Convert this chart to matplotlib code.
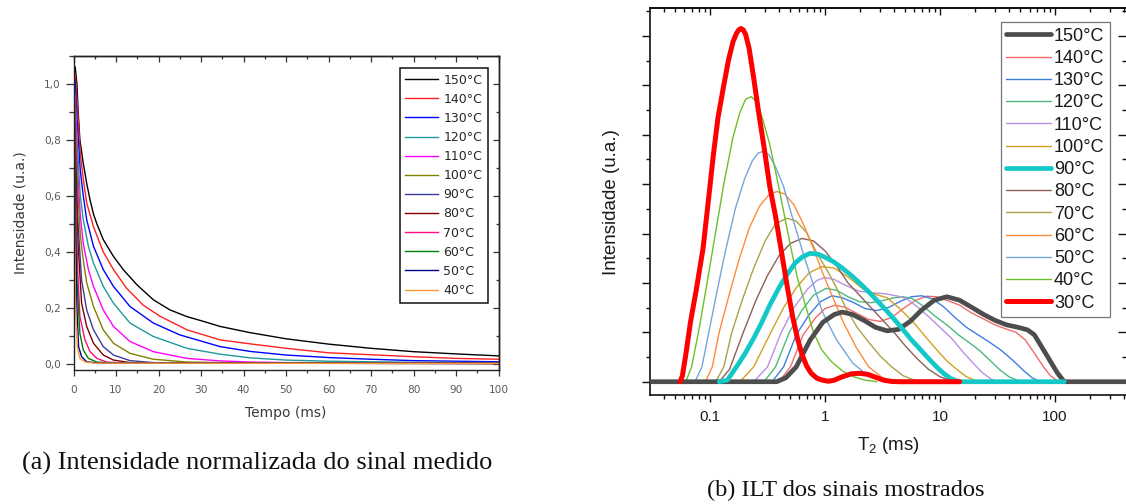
import numpy as np
import matplotlib
matplotlib.use("Agg")
import matplotlib.pyplot as plt
from matplotlib.ticker import MultipleLocator, LogLocator, FuncFormatter, NullFormatter

plt.rcParams['mathtext.fontset'] = 'custom'
plt.rcParams['mathtext.rm'] = 'Liberation Sans'
plt.rcParams['mathtext.it'] = 'Liberation Sans:italic'

# ---------------- (a) normalized decays ----------------
temps_a = ['150°C', '140°C', '130°C', '120°C', '110°C', '100°C',
           '90°C', '80°C', '70°C', '60°C', '50°C', '40°C']
colors_a = ['#000000', '#ff2020', '#0000ff', '#1f9999', '#ff00ff', '#808000',
            '#3c3c9c', '#800000', '#ff0a80', '#008000', '#00008a', '#ff9a3a']

t_150 = [0, 0.4, 0.8, 1.1, 1.5, 2.3, 3.1, 3.9, 4.7, 5.5, 7, 9.4, 11.7, 14.9, 18.8, 22.7, 26.7, 30.6, 34.5, 41.5, 50, 60, 70, 80, 90, 100]
y_150 = [1.06, 1.06, 1.0, 0.9, 0.8, 0.716, 0.645, 0.585, 0.535, 0.5, 0.444, 0.384, 0.337, 0.283, 0.229, 0.193, 0.169, 0.152, 0.134, 0.112, 0.09, 0.071, 0.056, 0.044, 0.036, 0.029]
t_140 = [0, 0.4, 0.8, 1.2, 1.6, 2.3, 3.1, 4.7, 7, 9.4, 12.5, 16.4, 20.4, 26.7, 34.5, 41.5, 50, 60, 70, 80, 90, 100]
y_140 = [1.05, 1.03, 0.95, 0.85, 0.75, 0.66, 0.575, 0.49, 0.40, 0.337, 0.27, 0.21, 0.17, 0.122, 0.086, 0.072, 0.056, 0.04, 0.033, 0.026, 0.02, 0.017]
t_130 = [0, 0.4, 0.8, 1.2, 1.6, 2.3, 3.1, 4.7, 7, 9.4, 13.3, 18.8, 25, 34.5, 41.5, 50, 60, 70, 80, 90, 100]
y_130 = [1.04, 1.0, 0.88, 0.78, 0.69, 0.6, 0.515, 0.42, 0.337, 0.277, 0.205, 0.146, 0.104, 0.062, 0.045, 0.032, 0.023, 0.017, 0.012, 0.01, 0.008]
t_120 = [0, 0.4, 0.8, 1.2, 1.6, 2.3, 3.5, 4.7, 7, 9.4, 13.3, 18.8, 26.7, 34.5, 41.5, 50, 60, 70, 80, 100]
y_120 = [1.03, 0.95, 0.82, 0.7, 0.6, 0.515, 0.42, 0.36, 0.277, 0.217, 0.146, 0.098, 0.056, 0.035, 0.022, 0.014, 0.01, 0.008, 0.006, 0.005]
t_110 = [0, 0.3, 0.6, 1.0, 1.6, 2.3, 3.5, 4.7, 7, 9.4, 13.3, 18.8, 26.7, 34.5, 41.5, 50, 100]
y_110 = [1.02, 0.95, 0.85, 0.68, 0.53, 0.43, 0.337, 0.277, 0.193, 0.134, 0.08, 0.044, 0.02, 0.011, 0.007, 0.005, 0.003]
t_100 = [0, 0.3, 0.6, 1.0, 1.6, 2.3, 3.1, 4.7, 7, 9.4, 13.3, 18.8, 26.7, 40, 100]
y_100 = [1.01, 0.92, 0.8, 0.62, 0.46, 0.37, 0.29, 0.205, 0.122, 0.074, 0.038, 0.017, 0.007, 0.004, 0.002]
t_90 = [0, 0.25, 0.5, 1.0, 1.9, 3.1, 4.7, 7, 9.4, 13.3, 18.8, 30, 100]
y_90 = [1.0, 0.88, 0.75, 0.52, 0.3, 0.193, 0.122, 0.062, 0.032, 0.012, 0.005, 0.003, 0.002]
t_80 = [0, 0.25, 0.5, 1.0, 1.9, 3.1, 4.7, 7, 9.4, 13.3, 20, 100]
y_80 = [1.0, 0.85, 0.7, 0.45, 0.217, 0.134, 0.074, 0.032, 0.014, 0.005, 0.003, 0.002]
t_70 = [0, 0.25, 0.5, 1.0, 1.5, 2.7, 3.9, 5.5, 7.8, 12, 100]
y_70 = [1.0, 0.8, 0.6, 0.33, 0.17, 0.086, 0.044, 0.02, 0.007, 0.003, 0.002]
t_60 = [0, 0.2, 0.4, 0.8, 1.5, 2.3, 3.5, 5.5, 10, 100]
y_60 = [1.0, 0.8, 0.6, 0.3, 0.11, 0.05, 0.02, 0.007, 0.003, 0.002]
t_50 = [0, 0.2, 0.4, 0.8, 1.2, 1.9, 3.1, 6, 100]
y_50 = [0.99, 0.75, 0.5, 0.2, 0.062, 0.026, 0.008, 0.003, 0.002]
t_40 = [0, 0.15, 0.3, 0.5, 0.9, 1.5, 2.7, 5, 100]
y_40 = [0.98, 0.7, 0.45, 0.2, 0.06, 0.02, 0.007, 0.003, 0.002]

decay_t = [t_150, t_140, t_130, t_120, t_110, t_100, t_90, t_80, t_70, t_60, t_50, t_40]
decay_y = [y_150, y_140, y_130, y_120, y_110, y_100, y_90, y_80, y_70, y_60, y_50, y_40]

# ---------------- (b) ILT distributions (log10 of T2 in ms) ----------------
labels_b = ['150°C', '140°C', '130°C', '120°C', '110°C', '100°C', '90°C',
            '80°C', '70°C', '60°C', '50°C', '40°C', '30°C']
colors_b = ['#4d4d4d', '#f26a6a', '#3f7fe0', '#4cb87f', '#bb90e8', '#d4a020', '#14c8c8',
            '#8c6058', '#aaa245', '#ff8a3c', '#74a6d8', '#6cbf2a', '#ff0000']

lt_150 = [-1.53, -0.42, -0.34, -0.25, -0.13, -0.02, 0.08, 0.15, 0.24, 0.34, 0.44, 0.54, 0.64, 0.74, 0.84, 0.95, 1.06, 1.17, 1.28, 1.38, 1.48, 1.58, 1.68, 1.76, 1.82, 1.88, 1.95, 2.02, 2.08, 2.65]
i_150 = [0, 0, 0.08, 0.3, 0.84, 1.2, 1.36, 1.41, 1.36, 1.24, 1.1, 1.03, 1.06, 1.22, 1.45, 1.65, 1.72, 1.65, 1.5, 1.36, 1.24, 1.15, 1.1, 1.05, 0.95, 0.72, 0.45, 0.18, 0.0, 0]
lt_140 = [-0.40, -0.30, -0.19, -0.08, 0.00, 0.09, 0.18, 0.28, 0.38, 0.48, 0.58, 0.68, 0.78, 0.88, 0.97, 1.07, 1.17, 1.27, 1.37, 1.47, 1.57, 1.66, 1.74, 1.82, 1.90, 1.96, 2.02, 2.06]
i_140 = [0, 0.3, 0.95, 1.3, 1.48, 1.55, 1.5, 1.38, 1.26, 1.22, 1.3, 1.48, 1.64, 1.73, 1.72, 1.64, 1.55, 1.4, 1.28, 1.16, 1.07, 1.0, 0.85, 0.58, 0.3, 0.12, 0.02, 0]
lt_130 = [-0.46, -0.36, -0.25, -0.14, -0.04, 0.06, 0.15, 0.25, 0.35, 0.45, 0.55, 0.65, 0.75, 0.84, 0.93, 1.03, 1.13, 1.23, 1.33, 1.43, 1.53, 1.63, 1.72, 1.80, 1.86, 1.90]
i_130 = [0, 0.3, 0.95, 1.35, 1.62, 1.74, 1.7, 1.6, 1.48, 1.44, 1.5, 1.62, 1.72, 1.74, 1.68, 1.52, 1.3, 1.1, 0.95, 0.8, 0.64, 0.44, 0.24, 0.08, 0.01, 0]
lt_120 = [-0.53, -0.43, -0.31, -0.20, -0.10, 0.01, 0.10, 0.20, 0.30, 0.40, 0.50, 0.60, 0.68, 0.76, 0.86, 0.96, 1.06, 1.16, 1.26, 1.35, 1.44, 1.52, 1.60, 1.68, 1.74]
i_120 = [0, 0.3, 1.0, 1.45, 1.75, 1.89, 1.85, 1.72, 1.62, 1.6, 1.64, 1.7, 1.72, 1.68, 1.52, 1.32, 1.15, 0.95, 0.78, 0.62, 0.42, 0.24, 0.1, 0.02, 0]
lt_110 = [-0.62, -0.50, -0.38, -0.27, -0.15, -0.07, 0.00, 0.08, 0.18, 0.30, 0.42, 0.52, 0.62, 0.71, 0.80, 0.90, 1.00, 1.10, 1.20, 1.29, 1.37, 1.44, 1.50]
i_110 = [0, 0.3, 1.0, 1.5, 1.88, 2.05, 2.11, 2.07, 1.95, 1.83, 1.8, 1.78, 1.74, 1.68, 1.52, 1.32, 1.1, 0.88, 0.6, 0.37, 0.18, 0.06, 0]
lt_100 = [-0.74, -0.62, -0.47, -0.36, -0.25, -0.14, -0.03, 0.08, 0.20, 0.33, 0.45, 0.54, 0.65, 0.77, 0.87, 0.97, 1.06, 1.15, 1.23, 1.30, 1.38]
i_100 = [0, 0.3, 1.0, 1.5, 1.9, 2.2, 2.33, 2.3, 2.12, 1.88, 1.76, 1.7, 1.48, 1.2, 0.92, 0.65, 0.42, 0.24, 0.1, 0.03, 0]
lt_90 = [-0.92, -0.85, -0.77, -0.70, -0.62, -0.55, -0.48, -0.40, -0.33, -0.26, -0.20, -0.13, -0.06, 0.00, 0.08, 0.15, 0.23, 0.30, 0.38, 0.45, 0.53, 0.60, 0.68, 0.75, 0.83, 0.90, 0.97, 1.03, 1.09, 1.14, 1.18, 2.08]
i_90 = [0, 0.03, 0.3, 0.55, 0.88, 1.2, 1.55, 1.9, 2.17, 2.4, 2.52, 2.6, 2.58, 2.52, 2.42, 2.3, 2.15, 2.0, 1.82, 1.65, 1.45, 1.27, 1.05, 0.85, 0.65, 0.47, 0.3, 0.17, 0.07, 0.02, 0, 0]
lt_80 = [-0.92, -0.83, -0.71, -0.60, -0.50, -0.40, -0.30, -0.20, -0.10, 0.00, 0.10, 0.20, 0.30, 0.40, 0.50, 0.60, 0.70, 0.80, 0.90, 1.00, 1.10, 1.17]
i_80 = [0, 0.25, 1.0, 1.65, 2.15, 2.55, 2.8, 2.9, 2.85, 2.65, 2.35, 2.0, 1.75, 1.5, 1.25, 1.0, 0.72, 0.47, 0.25, 0.1, 0.02, 0]
lt_70 = [-0.95, -0.88, -0.81, -0.72, -0.62, -0.52, -0.43, -0.33, -0.25, -0.16, -0.07, 0.02, 0.10, 0.19, 0.28, 0.38, 0.48, 0.58, 0.68, 0.78, 0.86]
i_70 = [0, 0.3, 1.0, 1.65, 2.3, 2.85, 3.2, 3.31, 3.25, 3.02, 2.6, 2.25, 1.9, 1.45, 1.1, 0.8, 0.52, 0.3, 0.12, 0.03, 0]
lt_60 = [-1.04, -0.98, -0.92, -0.84, -0.75, -0.66, -0.57, -0.49, -0.42, -0.35, -0.27, -0.19, -0.10, -0.02, 0.06, 0.16, 0.27, 0.38, 0.50, 0.60, 0.68]
i_60 = [0, 0.3, 1.0, 1.7, 2.45, 3.1, 3.55, 3.78, 3.85, 3.8, 3.58, 3.2, 2.7, 2.2, 1.75, 1.2, 0.7, 0.3, 0.08, 0.01, 0]
lt_50 = [-1.13, -1.07, -1.01, -0.95, -0.87, -0.78, -0.70, -0.63, -0.58, -0.54, -0.49, -0.43, -0.36, -0.28, -0.19, -0.10, -0.02, 0.10, 0.24, 0.38, 0.50, 0.58]
i_50 = [0, 0.3, 1.0, 1.7, 2.6, 3.5, 4.1, 4.48, 4.63, 4.66, 4.6, 4.35, 3.95, 3.3, 2.6, 1.95, 1.4, 0.85, 0.38, 0.11, 0.02, 0]
lt_40 = [-1.21, -1.16, -1.10, -1.04, -0.96, -0.88, -0.80, -0.74, -0.69, -0.64, -0.59, -0.54, -0.48, -0.42, -0.36, -0.30, -0.24, -0.17, -0.10, -0.03, 0.05, 0.15, 0.25, 0.35, 0.45]
i_40 = [0, 0.3, 1.0, 1.8, 2.9, 4.0, 4.95, 5.45, 5.72, 5.77, 5.65, 5.3, 4.8, 4.15, 3.45, 2.75, 2.1, 1.55, 1.0, 0.65, 0.42, 0.22, 0.1, 0.03, 0]
lt_30 = [-1.26, -1.24, -1.21, -1.17, -1.12, -1.06, -1.01, -0.97, -0.93, -0.88, -0.84, -0.80, -0.77, -0.75, -0.73, -0.71, -0.69, -0.66, -0.62, -0.58, -0.53, -0.48, -0.43, -0.38, -0.33, -0.28, -0.24, -0.20, -0.16, -0.12, -0.07, -0.02, 0.03, 0.08, 0.15, 0.23, 0.30, 0.37, 0.44, 0.51, 0.58, 0.65, 1.17]
i_30 = [0, 0.12, 0.55, 1.2, 1.85, 2.7, 3.75, 4.6, 5.35, 6.0, 6.5, 6.88, 7.05, 7.12, 7.15, 7.12, 7.03, 6.75, 6.15, 5.5, 4.75, 3.95, 3.35, 2.65, 1.95, 1.3, 0.88, 0.55, 0.32, 0.17, 0.07, 0.03, 0.01, 0.03, 0.1, 0.16, 0.17, 0.15, 0.09, 0.03, 0.005, 0, 0]

ilt_x = [lt_150, lt_140, lt_130, lt_120, lt_110, lt_100, lt_90, lt_80, lt_70, lt_60, lt_50, lt_40, lt_30]
ilt_y = [i_150, i_140, i_130, i_120, i_110, i_100, i_90, i_80, i_70, i_60, i_50, i_40, i_30]

W, H = 1126, 504
fig = plt.figure(figsize=(W / 100, H / 100), dpi=100)

def frac(x0, y_top, x1, y_bot):
    return [x0 / W, 1 - y_bot / H, (x1 - x0) / W, (y_bot - y_top) / H]

# ================= panel (a) =================
FA = 'DejaVu Sans'
axA = fig.add_axes(frac(73.5, 55.7, 498.5, 370))
for tt, yy, c, lab in zip(decay_t, decay_y, colors_a, temps_a):
    axA.plot(tt, yy, color=c, lw=1.0, label=lab)
axA.set_xlim(0, 100)
axA.set_ylim(-0.0214, 1.10)
axA.xaxis.set_major_locator(MultipleLocator(10))
axA.xaxis.set_minor_locator(MultipleLocator(5))
axA.yaxis.set_major_locator(MultipleLocator(0.2))
axA.yaxis.set_minor_locator(MultipleLocator(0.1))
axA.yaxis.set_major_formatter(FuncFormatter(lambda v, p: f'{v:.1f}'.replace('.', ',')))
axA.tick_params(axis='both', which='both', direction='out', colors='#333333',
                labelcolor='#5a5a5a', labelsize=7.6, width=0.9)
axA.tick_params(axis='y', which='major', length=6, pad=3)
axA.tick_params(axis='y', which='minor', length=3.5)
axA.tick_params(axis='x', which='major', length=4.5, pad=6)
axA.tick_params(axis='x', which='minor', length=2.5)
for lab in axA.get_xticklabels() + axA.get_yticklabels():
    lab.set_family(FA)
for s in axA.spines.values():
    s.set_linewidth(1.0)
    s.set_color('#222222')
secA = axA.secondary_xaxis('top')
secA.xaxis.set_major_locator(MultipleLocator(10))
secA.xaxis.set_minor_locator(MultipleLocator(5))
secA.tick_params(which='both', direction='in', labeltop=False, colors='#333333', width=0.9)
secA.tick_params(which='major', length=4)
secA.tick_params(which='minor', length=2.5)
secA.spines['top'].set_linewidth(1.0)
secAy = axA.secondary_yaxis('right')
secAy.yaxis.set_major_locator(MultipleLocator(0.2))
secAy.yaxis.set_minor_locator(MultipleLocator(0.1))
secAy.tick_params(which='both', direction='in', labelright=False, colors='#333333', width=0.9)
secAy.tick_params(which='major', length=4)
secAy.tick_params(which='minor', length=2.5)
secAy.spines['right'].set_linewidth(1.0)
axA.set_xlabel('Tempo (ms)', family=FA, fontsize=10, color='#3a3a3a', labelpad=8)
axA.set_ylabel('Intensidade (u.a.)', family=FA, fontsize=10, color='#3a3a3a', labelpad=12)
legA = axA.legend(loc='upper right', bbox_to_anchor=(0.9753, 0.9609), borderaxespad=0,
                  frameon=True, fancybox=False, framealpha=1, edgecolor='#111111',
                  prop={'family': FA, 'size': 9}, handlelength=2.64, handletextpad=0.4,
                  labelspacing=0.49, borderpad=0.45)
legA.get_frame().set_linewidth(1.1)
for t in legA.get_texts():
    t.set_color('#262626')

# ================= panel (b) =================
FB = 'Liberation Sans'
axB = fig.add_axes(frac(650, 8.3, 1126, 395))
thick = {'150°C': 3.4, '90°C': 3.4, '30°C': 3.6}
zord = {'150°C': 4, '90°C': 5, '30°C': 6}
handles = []
for lx, yy, c, lab in zip(ilt_x, ilt_y, colors_b, labels_b):
    line, = axB.plot(10 ** np.array(lx), yy, color=c, lw=thick.get(lab, 1.0),
                     zorder=zord.get(lab, 2), solid_capstyle='round', solid_joinstyle='round',
                     label=lab)
    handles.append(line)
axB.set_xscale('log')
axB.set_xlim(0.0301, 414)
axB.set_ylim(-0.269, 7.559)
axB.xaxis.set_major_locator(LogLocator(base=10, numticks=12))
axB.xaxis.set_minor_locator(LogLocator(base=10, subs=np.arange(2, 10), numticks=12))
axB.xaxis.set_major_formatter(FuncFormatter(lambda v, p: f'{v:g}'))
axB.xaxis.set_minor_formatter(NullFormatter())
axB.yaxis.set_major_locator(MultipleLocator(1))
axB.yaxis.set_minor_locator(MultipleLocator(0.5))
axB.yaxis.set_major_formatter(NullFormatter())
axB.tick_params(axis='both', which='both', direction='out', width=1.0, colors='#111111',
                labelcolor='#1a1a1a', labelsize=11)
axB.tick_params(axis='y', which='major', length=6)
axB.tick_params(axis='y', which='minor', length=3)
axB.tick_params(axis='x', which='major', length=5, pad=6)
axB.tick_params(axis='x', which='minor', length=3)
for lab in axB.get_xticklabels():
    lab.set_family(FB)
for s in axB.spines.values():
    s.set_linewidth(1.2)
    s.set_color('#111111')
axB.spines['right'].set_visible(False)
secB = axB.secondary_xaxis('top')
secB.xaxis.set_major_locator(LogLocator(base=10, numticks=12))
secB.xaxis.set_minor_locator(LogLocator(base=10, subs=np.arange(2, 10), numticks=12))
secB.xaxis.set_minor_formatter(NullFormatter())
secB.tick_params(which='both', direction='in', labeltop=False, colors='#111111', width=1.0)
secB.tick_params(which='major', length=5)
secB.tick_params(which='minor', length=3)
secB.spines['top'].set_linewidth(1.2)
secBy = axB.secondary_yaxis('right')
secBy.yaxis.set_major_locator(MultipleLocator(1))
secBy.yaxis.set_minor_locator(MultipleLocator(0.5))
secBy.tick_params(which='both', direction='in', labelright=False, colors='#111111', width=1.0)
secBy.tick_params(which='major', length=6)
secBy.tick_params(which='minor', length=3)
secBy.spines['right'].set_visible(False)
axB.set_xlabel(r'T$_\mathrm{2}$ (ms)', family=FB, fontsize=13.5, color='#1a1a1a', labelpad=8)
axB.set_ylabel('Intensidade (u.a.)', family=FB, fontsize=13.5, color='#1a1a1a', labelpad=12)
legB = axB.legend(handles=handles, loc='upper right', bbox_to_anchor=((1110 - 650) / 476, (395 - 22.3) / 386.7),
                  borderaxespad=0, frameon=True, fancybox=False, framealpha=1,
                  edgecolor='#777777', prop={'family': FB, 'size': 13},
                  handlelength=2.5, handletextpad=0.15, labelspacing=0.29, borderpad=0.3)
legB.get_frame().set_linewidth(0.9)
legB.set_zorder(10)
for t in legB.get_texts():
    t.set_color('#1a1a1a')

# captions
fig.text(257.5 / W, 1 - 463 / H, '(a) Intensidade normalizada do sinal medido',
         family='Liberation Serif', fontsize=19, ha='center', va='center', color='#111111')
fig.text(846 / W, 1 - 490 / H, '(b) ILT dos sinais mostrados',
         family='Liberation Serif', fontsize=17.6, ha='center', va='center', color='#111111')

fig.savefig('out.png', dpi=100)
